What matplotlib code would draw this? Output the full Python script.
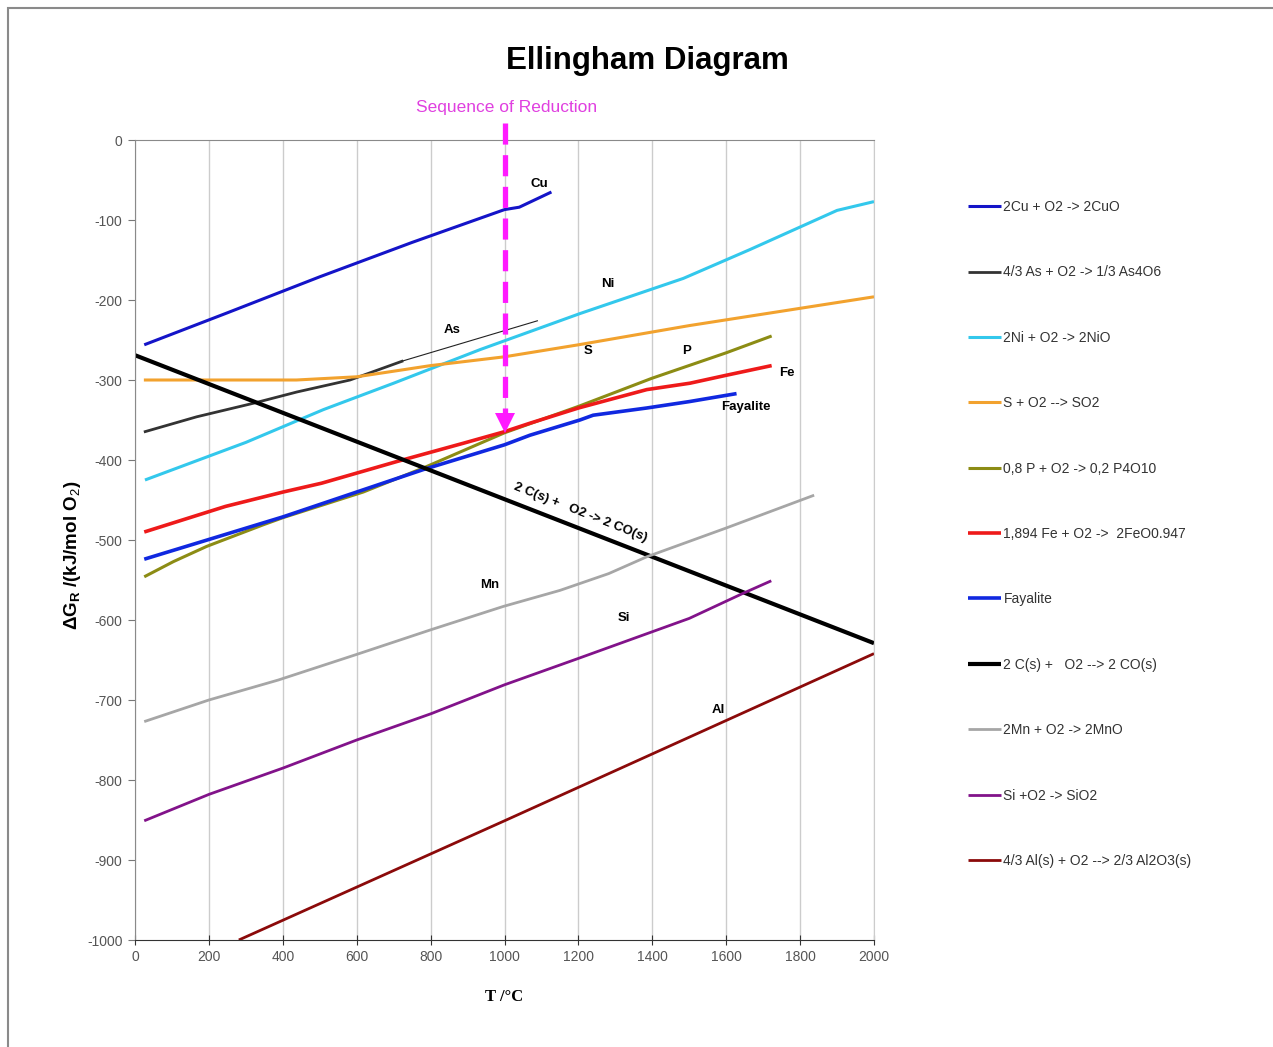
import matplotlib
matplotlib.use('Agg')
import matplotlib.pyplot as plt
from matplotlib.patches import Rectangle

plt.rcParams['font.family'] = ['Liberation Sans', 'DejaVu Sans']
plt.rcParams['axes.unicode_minus'] = False
plt.rcParams['mathtext.fontset'] = 'custom'
plt.rcParams['mathtext.bf'] = 'Liberation Sans:bold'
plt.rcParams['mathtext.rm'] = 'Liberation Sans'

# --- данные (T в °C, dG в кДж/моль O2) ---
T_CU = [25, 250, 500, 750, 1000, 1040, 1127]
G_CU = [-256, -216, -171, -128, -87, -84, -65]

T_AS = [24, 167, 321, 438, 582, 672, 726]
G_AS = [-365, -346, -329, -315, -300, -285, -276]
T_AS_EXT = [726, 1089]
G_AS_EXT = [-276, -226]

T_NI = [27, 300, 510, 700, 934, 1204, 1484, 1664, 1900, 2000]
G_NI = [-425, -378, -337, -304, -262, -217, -173, -137, -88, -77]

T_S = [24, 200, 437, 600, 800, 1000, 1200, 1500, 1750, 2000]
G_S = [-300, -300, -300, -296, -282, -271, -256, -232, -214, -196]

T_P = [25, 104, 194, 347, 401, 618, 780, 1000, 1200, 1398, 1600, 1723]
G_P = [-546, -527, -508, -481, -472, -440, -410, -366, -333, -298, -266, -245]

T_FE = [25, 245, 401, 505, 708, 889, 997, 1069, 1200, 1385, 1502, 1601, 1723]
G_FE = [-490, -458, -440, -429, -402, -379, -365, -354, -335, -312, -304, -294, -282]

T_FAY = [25, 401, 780, 1000, 1069, 1204, 1240, 1385, 1500, 1628]
G_FAY = [-524, -471, -412, -381, -369, -350, -344, -335, -327, -317]

T_C = [0, 2000]
G_C = [-269, -629]

T_MN = [25, 200, 388, 600, 802, 997, 1150, 1282, 1385, 1600, 1838]
G_MN = [-727, -700, -675, -643, -612, -583, -563, -542, -521, -485, -444]

T_SI = [25, 200, 401, 600, 802, 1000, 1200, 1398, 1500, 1644, 1722]
G_SI = [-851, -818, -785, -750, -717, -681, -648, -615, -598, -567, -551]

T_AL = [281, 1000, 2000]
G_AL = [-1000, -851, -642]

LEGEND_LABELS = [
    '2Cu + O2 -> 2CuO',
    '4/3 As + O2 -> 1/3 As4O6',
    '2Ni + O2 -> 2NiO',
    'S + O2 --> SO2',
    '0,8 P + O2 -> 0,2 P4O10',
    '1,894 Fe + O2 ->  2FeO0.947',
    'Fayalite',
    '2 C(s) +   O2 --> 2 CO(s)',
    '2Mn + O2 -> 2MnO',
    'Si +O2 -> SiO2',
    '4/3 Al(s) + O2 --> 2/3 Al2O3(s)',
]

# подписи линий прямо на графике: (текст, T, dG)
LINE_TAGS = [
    ('Cu', 1093, -55), ('Ni', 1280, -180), ('As', 858, -237),
    ('S', 1226, -264), ('P', 1494, -264), ('Fe', 1765, -291),
    ('Fayalite', 1654, -334), ('Mn', 961, -556), ('Si', 1323, -597),
    ('Al', 1578, -712),
]

ARROW_T = 1000
ARROW_TOP = 21
ARROW_TIP = -365

fig = plt.figure(figsize=(12.73, 10.47), dpi=100)
fig.patch.set_facecolor('white')
# рамка вокруг всей картинки (видны только левая и верхняя стороны)
fig.patches.append(Rectangle((8 / 1273, -0.1), 1.2, 1.1 - 8 / 1047,
                             transform=fig.transFigure, fill=False,
                             edgecolor='#8a8a8a', linewidth=1.5))

ax = fig.add_axes([135 / 1273, 1 - 940 / 1047, 739 / 1273, 800 / 1047])

series = [
    (T_CU, G_CU, '#1414C8', 2.2),
    (T_AS, G_AS, '#333333', 2.0),
    (T_NI, G_NI, '#33C8EC', 2.2),
    (T_S, G_S, '#F2A22E', 2.2),
    (T_P, G_P, '#8C8C14', 2.2),
    (T_FE, G_FE, '#EE1A1A', 2.6),
    (T_FAY, G_FAY, '#1028E0', 2.6),
    (T_C, G_C, '#000000', 3.0),
    (T_MN, G_MN, '#A6A6A6', 2.0),
    (T_SI, G_SI, '#82138A', 2.0),
    (T_AL, G_AL, '#8B0A0A', 2.0),
]
handles = []
for (t, g, col, lw), lab in zip(series, LEGEND_LABELS):
    h, = ax.plot(t, g, color=col, linewidth=lw, label=lab, solid_capstyle='butt')
    handles.append(h)
ax.plot(T_AS_EXT, G_AS_EXT, color='#222222', linewidth=0.8)

for txt, t, g in LINE_TAGS:
    ax.text(t, g, txt, fontsize=9.5, fontweight='bold', ha='center', va='center')

ax.text(1204, -466, '2 C(s) +   O2 -> 2 CO(s)', fontsize=9.5, fontweight='bold',
        rotation=-21.5, ha='center', va='center', rotation_mode='anchor')

# стрелка "Sequence of Reduction"
ax.plot([ARROW_T, ARROW_T], [ARROW_TOP, ARROW_TIP + 22], color='#FF1AFF',
        linewidth=3.8, dashes=(4, 2), clip_on=False, zorder=5)
ax.plot([ARROW_T], [ARROW_TIP + 11], marker='v', markersize=15, color='#FF1AFF',
        markeredgewidth=0, zorder=5)
ax.text(ARROW_T + 5, 41, 'Sequence of Reduction', color='#E040E0', fontsize=12.5,
        ha='center', va='center')

ax.set_xlim(0, 2000)
ax.set_ylim(-1000, 0)
ax.set_xticks(range(0, 2001, 200))
ax.set_yticks(range(-1000, 1, 100))
ax.grid(axis='x', color='#cccccc', linewidth=1)
ax.set_axisbelow(True)
ax.tick_params(axis='x', direction='inout', length=7, colors='#333333',
               labelcolor='#555555', labelsize=10, pad=4)
ax.tick_params(axis='y', direction='out', length=5, colors='#777777',
               labelcolor='#555555', labelsize=10, pad=4)
for side in ['left', 'top']:
    ax.spines[side].set_color('#8a8a8a')
ax.spines['right'].set_color('#cccccc')
ax.spines['bottom'].set_color('#333333')

ax.set_xlabel('T /°C', family=['Liberation Serif', 'DejaVu Serif'],
              fontweight='bold', fontsize=12, labelpad=18)
ax.set_ylabel(r'$\mathbf{\Delta G_{R}}$ /(kJ/mol O$_{2}$)', fontsize=13.5,
              fontweight='bold')
ax.yaxis.set_label_coords(-0.07, 0.481)

fig.text(647 / 1273, 1 - 61 / 1047, 'Ellingham Diagram', fontsize=22.5,
         fontweight='bold', ha='center', va='center')

fig.legend(handles=handles, loc='upper left',
           bbox_to_anchor=(968 / 1273, 1 - 200 / 1047), frameon=False,
           fontsize=10, labelspacing=3.7, handlelength=2.4,
           handletextpad=0.15, borderpad=0, borderaxespad=0,
           labelcolor='#333333')

fig.savefig('out.png', dpi=100, facecolor='white')
